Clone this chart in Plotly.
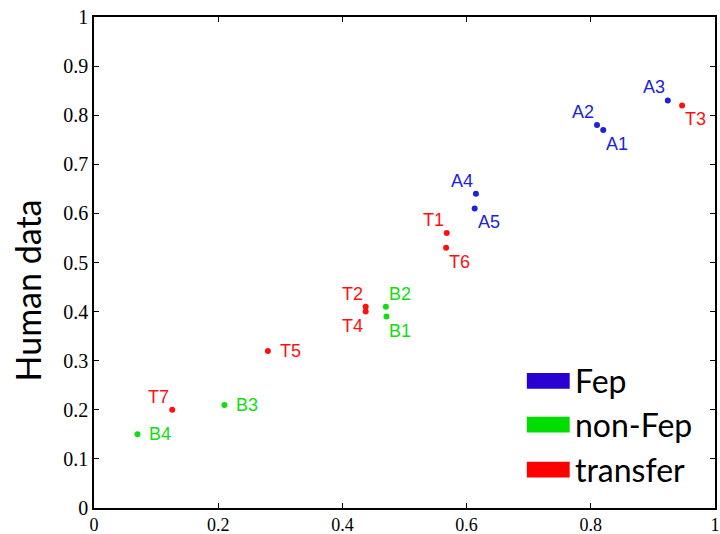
import plotly.graph_objects as go

# Data
fep_labels = ["A1", "A2", "A3", "A4", "A5"]
fep_x = [0.82, 0.81, 0.924, 0.615, 0.613]
fep_y = [0.77, 0.78, 0.83, 0.64, 0.61]
fep_pos = ["bottom right", "top left", "top left", "top left", "bottom right"]

nonfep_labels = ["B1", "B2", "B3", "B4"]
nonfep_x = [0.471, 0.470, 0.21, 0.07]
nonfep_y = [0.39, 0.41, 0.21, 0.15]
nonfep_pos = ["bottom right", "top right", "middle right", "middle right"]

transfer_labels = ["T1", "T2", "T3", "T4", "T5", "T6", "T7"]
transfer_x = [0.568, 0.4375, 0.947, 0.4375, 0.28, 0.567, 0.126]
transfer_y = [0.56, 0.41, 0.82, 0.40, 0.32, 0.53, 0.20]
transfer_pos = ["top left", "top left", "bottom right", "bottom left", "middle right", "bottom right", "top left"]

legend_names = ["Fep", "non-Fep", "transfer"]
legend_y = [0.2587, 0.170, 0.078]

BLUE = "#1c22dc"
GREEN = "#11dd11"
RED = "#ff1010"
LEG_COLORS = ["#2a00d2", "#00dd00", "#ff0000"]

LABEL_FONT = "Liberation Sans, Arial, sans-serif"

fig = go.Figure()


def label_style(pos):
    v, h = pos.split(" ")
    if v == "top":
        yshift = 13
    elif v == "bottom":
        yshift = -14
    else:
        yshift = 0
    if h == "left":
        xanchor, xshift = "right", -1
    elif v == "middle":
        xanchor, xshift = "left", 10
    else:
        xanchor, xshift = "left", 1
    return dict(xanchor=xanchor, yanchor="middle", xshift=xshift, yshift=yshift)


for xs, ys, labs, pos, col in [
    (fep_x, fep_y, fep_labels, fep_pos, BLUE),
    (nonfep_x, nonfep_y, nonfep_labels, nonfep_pos, GREEN),
    (transfer_x, transfer_y, transfer_labels, transfer_pos, RED),
]:
    fig.add_trace(go.Scatter(
        x=xs, y=ys, mode="markers",
        marker=dict(color=col, size=6),
        showlegend=False, cliponaxis=False, hoverinfo="text", text=labs,
    ))
    for x, y, lab, p in zip(xs, ys, labs, pos):
        fig.add_annotation(x=x, y=y, text=lab, showarrow=False,
                           font=dict(color=col, size=18, family=LABEL_FONT),
                           **label_style(p))

# Custom legend (colored bars + text)
for name, yy, col in zip(legend_names, legend_y, LEG_COLORS):
    fig.add_shape(type="rect", xref="paper", yref="paper",
                  x0=0.697, x1=0.766, y0=yy - 0.016, y1=yy + 0.016,
                  fillcolor=col, line=dict(width=0))
    fig.add_annotation(xref="paper", yref="paper", x=0.772, y=yy, text=name,
                       showarrow=False, xanchor="left", yanchor="middle",
                       font=dict(size=32, color="black", family="Lato, sans-serif"))

# Y axis title (placed as a rotated annotation to match the original offset)
fig.add_annotation(xref="paper", yref="paper", x=-0.1055, y=0.444, text="Human data",
                   textangle=-90, showarrow=False, xanchor="center", yanchor="middle",
                   font=dict(family="Lato, sans-serif", size=34, color="black"))

axis_common = dict(
    range=[0, 1], showgrid=False, zeroline=False, showline=True,
    linecolor="black", linewidth=1.5, mirror="ticks", ticks="inside",
    ticklen=5, tickcolor="black", automargin=False,
)
fig.update_xaxes(**axis_common, tickvals=[0, 0.2, 0.4, 0.6, 0.8, 1],
                 ticktext=["0", "0.2", "0.4", "0.6", "0.8", "1"],
                 tickfont=dict(family="Liberation Serif, Times New Roman, serif", size=18, color="black"))
fig.update_yaxes(**axis_common, tickvals=[i / 10 for i in range(11)],
                 ticktext=["0"] + [f"0.{i}" for i in range(1, 10)] + ["1"],
                 tickfont=dict(family="Liberation Serif, Times New Roman, serif", size=20, color="black"))

fig.update_layout(
    width=720, height=534,
    margin=dict(l=94, r=5, t=17, b=26),
    plot_bgcolor="white", paper_bgcolor="white",
)

fig.write_html("out.html")
